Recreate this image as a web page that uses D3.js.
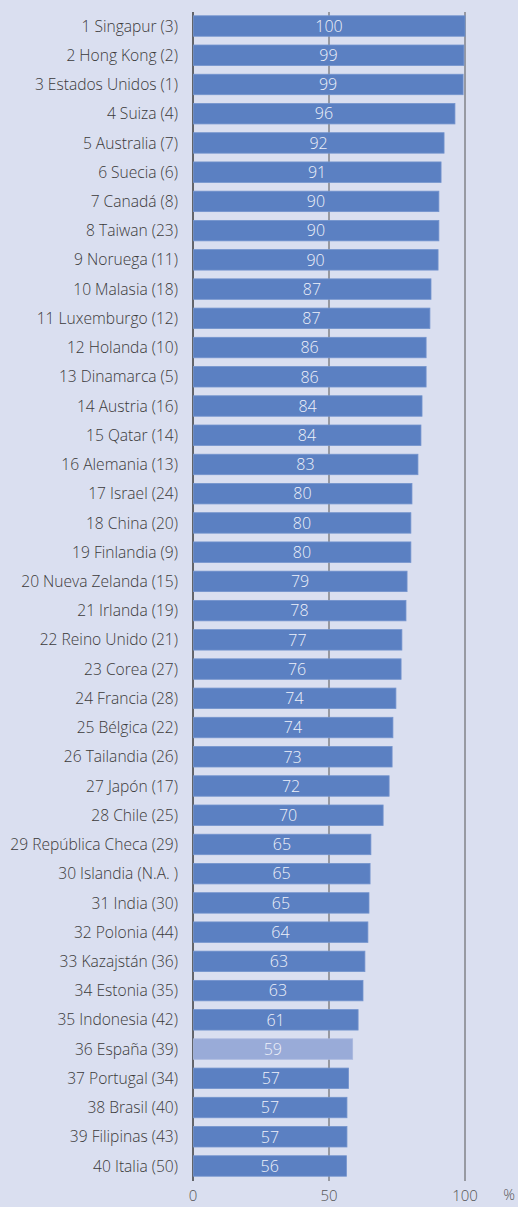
<!DOCTYPE html>
<html><head><meta charset="utf-8">
<script src="https://cdn.jsdelivr.net/npm/d3@7"></script>
<style>
html,body{margin:0;padding:0;background:#dadff0;}
svg{display:block;}
</style></head>
<body>
<svg id="chart" width="518" height="1207"></svg>
<script>
const categories = [
  "1 Singapur (3)","2 Hong Kong (2)","3 Estados Unidos (1)","4 Suiza (4)","5 Australia (7)",
  "6 Suecia (6)","7 Canadá (8)","8 Taiwan (23)","9 Noruega (11)","10 Malasia (18)",
  "11 Luxemburgo (12)","12 Holanda (10)","13 Dinamarca (5)","14 Austria (16)","15 Qatar (14)",
  "16 Alemania (13)","17 Israel (24)","18 China (20)","19 Finlandia (9)","20 Nueva Zelanda (15)",
  "21 Irlanda (19)","22 Reino Unido (21)","23 Corea (27)","24 Francia (28)","25 Bélgica (22)",
  "26 Tailandia (26)","27 Japón (17)","28 Chile (25)","29 República Checa (29)","30 Islandia (N.A. )",
  "31 India (30)","32 Polonia (44)","33 Kazajstán (36)","34 Estonia (35)","35 Indonesia (42)",
  "36 España (39)","37 Portugal (34)","38 Brasil (40)","39 Filipinas (43)","40 Italia (50)"
];
const values = [
  100, 99.6, 99.3, 96.3, 92.3, 91.2, 90.4, 90.4, 90.1, 87.5,
  87.1, 85.7, 85.7, 84.2, 83.8, 82.7, 80.5, 80.1, 80.1, 78.7,
  78.3, 76.8, 76.5, 74.6, 73.5, 73.2, 72.1, 69.9, 65.4, 65.1,
  64.7, 64.3, 63.2, 62.5, 60.7, 58.7, 57.2, 56.6, 56.6, 56.4
];
const valueLabels = [
  100, 99, 99, 96, 92, 91, 90, 90, 90, 87,
  87, 86, 86, 84, 84, 83, 80, 80, 80, 79,
  78, 77, 76, 74, 74, 73, 72, 70, 65, 65,
  65, 64, 63, 63, 61, 59, 57, 57, 57, 56
];
const highlight = "36 España (39)";
const xTicks = [0, 50, 100];

const svg = d3.select("#chart");
const x = d3.scaleLinear().domain([0, 100]).range([193, 465]);
const y = d3.scaleBand().domain(categories).range([11.4, 1180.6]).paddingInner(0.3).paddingOuter(0.15);
const font = "'Open Sans', sans-serif";

// gridlines
svg.append("g").selectAll("line").data(xTicks).join("line")
  .attr("x1", d => x(d)).attr("x2", d => x(d))
  .attr("y1", 12).attr("y2", 1181)
  .attr("stroke", d => d === 0 ? "#222" : "#555")
  .attr("stroke-width", d => d === 0 ? 1.3 : 1);

const data = categories.map((c, i) => ({c, v: values[i], l: valueLabels[i]}));

// bars
svg.append("g").selectAll("rect").data(data).join("rect")
  .attr("x", x(0) + 0.5)
  .attr("y", d => y(d.c))
  .attr("width", d => x(d.v) - x(0) - 0.5)
  .attr("height", y.bandwidth())
  .attr("fill", d => d.c === highlight ? "#99abd8" : "#5b80c2")
  .attr("stroke", d => d.c === highlight ? "#a9b8de" : "#7393cd")
  .attr("stroke-width", 0.8);

// value labels
svg.append("g").selectAll("text").data(data).join("text")
  .attr("x", d => (x(0) + x(d.v)) / 2)
  .attr("y", d => y(d.c) + y.bandwidth() / 2)
  .attr("dy", "0.36em")
  .attr("text-anchor", "middle")
  .attr("font-family", font)
  .attr("font-weight", 300)
  .attr("font-size", 16)
  .attr("fill", "#eef1fa")
  .text(d => d.l);

// category labels
svg.append("g").selectAll("text").data(data).join("text")
  .attr("x", 178)
  .attr("y", d => y(d.c) + y.bandwidth() / 2)
  .attr("dy", "0.36em")
  .attr("text-anchor", "end")
  .attr("font-family", font)
  .attr("font-weight", 300)
  .attr("font-size", 15.6)
  .attr("fill", "#3a3a3a")
  .text(d => d.c);

// x axis tick labels
svg.append("g").selectAll("text").data(xTicks).join("text")
  .attr("x", d => x(d))
  .attr("y", 1201)
  .attr("text-anchor", "middle")
  .attr("font-family", font)
  .attr("font-weight", 300)
  .attr("font-size", 15)
  .attr("fill", "#555")
  .text(d => d);
svg.append("text")
  .attr("x", 509).attr("y", 1200)
  .attr("text-anchor", "middle")
  .attr("font-family", font).attr("font-weight", 300).attr("font-size", 14.5)
  .attr("fill", "#555").text("%");
</script>
</body></html>
